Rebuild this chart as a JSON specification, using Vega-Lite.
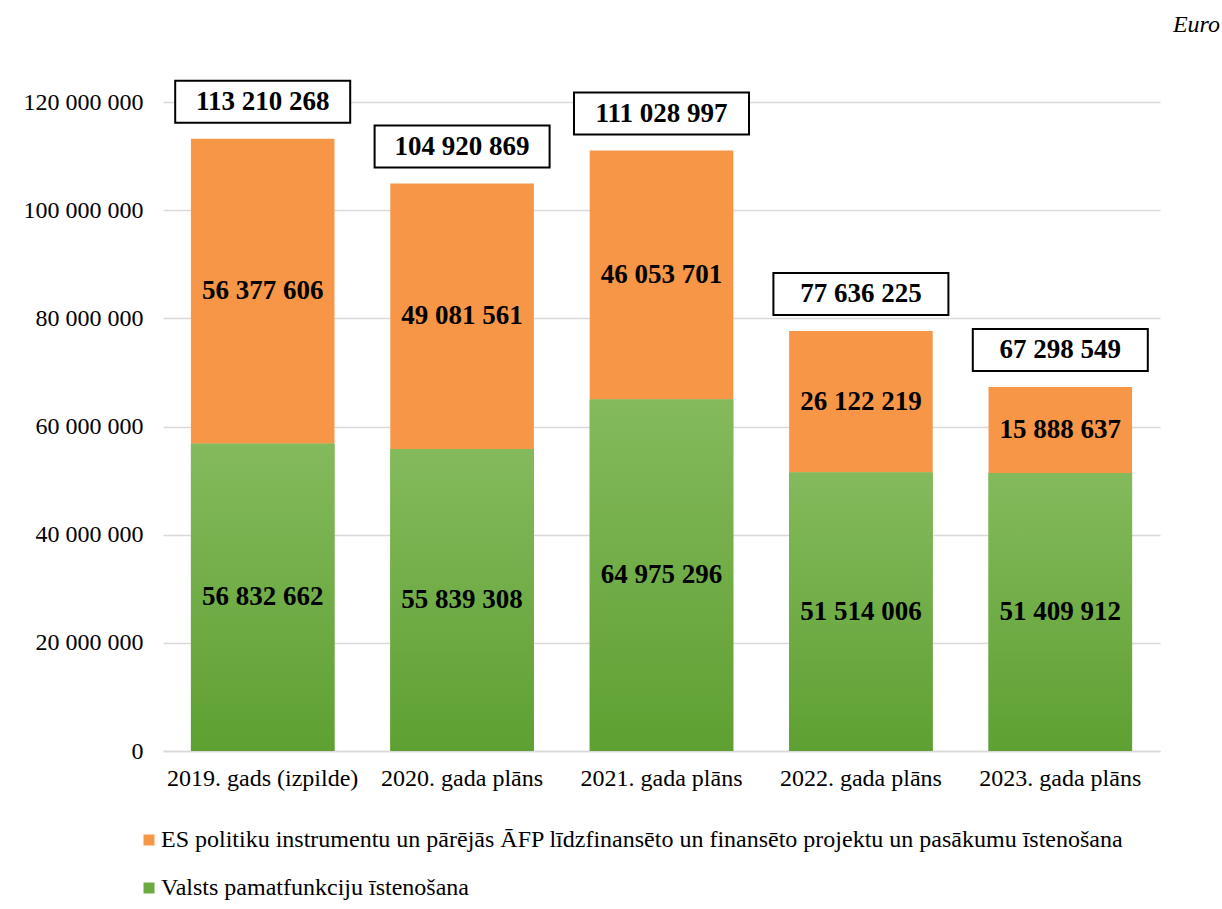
{
  "$schema": "https://vega.github.io/schema/vega-lite/v6.json",
  "width": 997,
  "height": 649,
  "autosize": {"type": "none"},
  "padding": {"left": 163, "top": 102, "right": 62, "bottom": 158},
  "background": "white",
  "config": {
    "locale": {"number": {"decimal": ",", "thousands": " ", "grouping": [3], "currency": ["", ""]}},
    "view": {"stroke": null},
    "font": "Liberation Serif"
  },
  "title": {
    "text": "Euro",
    "anchor": "end",
    "frame": "group",
    "fontStyle": "italic",
    "fontWeight": "normal",
    "fontSize": 24,
    "font": "Liberation Serif",
    "color": "black",
    "baseline": "alphabetic",
    "dx": 60,
    "offset": 21
  },
  "data": {
    "values": [
      {"year": "2019. gads (izpilde)", "series": "ES politiku instrumentu un pārējās ĀFP līdzfinansēto un finansēto projektu un pasākumu īstenošana", "value": 56377606},
      {"year": "2019. gads (izpilde)", "series": "Valsts pamatfunkciju īstenošana", "value": 56832662},
      {"year": "2020. gada plāns", "series": "ES politiku instrumentu un pārējās ĀFP līdzfinansēto un finansēto projektu un pasākumu īstenošana", "value": 49081561},
      {"year": "2020. gada plāns", "series": "Valsts pamatfunkciju īstenošana", "value": 55839308},
      {"year": "2021. gada plāns", "series": "ES politiku instrumentu un pārējās ĀFP līdzfinansēto un finansēto projektu un pasākumu īstenošana", "value": 46053701},
      {"year": "2021. gada plāns", "series": "Valsts pamatfunkciju īstenošana", "value": 64975296},
      {"year": "2022. gada plāns", "series": "ES politiku instrumentu un pārējās ĀFP līdzfinansēto un finansēto projektu un pasākumu īstenošana", "value": 26122219},
      {"year": "2022. gada plāns", "series": "Valsts pamatfunkciju īstenošana", "value": 51514006},
      {"year": "2023. gada plāns", "series": "ES politiku instrumentu un pārējās ĀFP līdzfinansēto un finansēto projektu un pasākumu īstenošana", "value": 15888637},
      {"year": "2023. gada plāns", "series": "Valsts pamatfunkciju īstenošana", "value": 51409912}
    ]
  },
  "encoding": {
    "x": {
      "field": "year",
      "type": "nominal",
      "sort": null,
      "title": null,
      "scale": {"paddingInner": 0.28, "paddingOuter": 0.14},
      "axis": {
        "labelAngle": 0,
        "labelFont": "Liberation Serif",
        "labelFontSize": 24,
        "labelColor": "black",
        "labelPadding": 15,
        "labelLimit": 400,
        "ticks": false,
        "domainColor": "#d9d9d9",
        "domainWidth": 1.5,
        "grid": false
      }
    }
  },
  "layer": [
    {
      "mark": {"type": "bar"},
      "encoding": {
        "y": {
          "field": "value",
          "type": "quantitative",
          "stack": "zero",
          "title": null,
          "scale": {"domain": [0, 120000000], "nice": false},
          "axis": {
            "values": [0, 20000000, 40000000, 60000000, 80000000, 100000000, 120000000],
            "format": ",d",
            "labelFont": "Liberation Serif",
            "labelFontSize": 24,
            "labelColor": "black",
            "labelPadding": 20,
            "ticks": false,
            "domain": false,
            "gridColor": "#d9d9d9",
            "gridWidth": 1.5
          }
        },
        "color": {
          "field": "series",
          "type": "nominal",
          "scale": {
            "domain": ["ES politiku instrumentu un pārējās ĀFP līdzfinansēto un finansēto projektu un pasākumu īstenošana", "Valsts pamatfunkciju īstenošana"],
            "range": ["#F79646", "#6CAA44"]
          },
          "legend": {
            "title": null,
            "orient": "none",
            "legendX": -26,
            "legendY": 726,
            "direction": "vertical",
            "symbolType": "square",
            "symbolSize": 121,
            "symbolStrokeWidth": 0,
            "labelFont": "Liberation Serif",
            "labelFontSize": 24,
            "labelColor": "black",
            "labelLimit": 2000,
            "labelOffset": 0,
            "rowPadding": 24,
            "padding": 0
          }
        },
        "order": {"field": "series", "sort": "descending"}
      }
    },
    {
      "transform": [{"filter": "datum.series === 'Valsts pamatfunkciju īstenošana'"}],
      "mark": {
        "type": "bar",
        "fill": {
          "gradient": "linear",
          "x1": 0, "y1": 0, "x2": 0, "y2": 1,
          "stops": [
            {"offset": 0, "color": "#84BA5C"},
            {"offset": 1, "color": "#5EA032"}
          ]
        }
      },
      "encoding": {
        "y": {"field": "value", "type": "quantitative", "title": null}
      }
    },
    {
      "transform": [
        {"stack": "value", "groupby": ["year"], "sort": [{"field": "series", "order": "descending"}], "as": ["v0", "v1"]},
        {"calculate": "(datum.v0 + datum.v1) / 2", "as": "mid"}
      ],
      "mark": {"type": "text", "font": "Liberation Serif", "fontWeight": "bold", "fontSize": 27, "color": "black", "baseline": "middle"},
      "encoding": {
        "y": {"field": "mid", "type": "quantitative", "title": null},
        "text": {"field": "value", "type": "quantitative", "format": ",d"}
      }
    },
    {
      "transform": [{"aggregate": [{"op": "sum", "field": "value", "as": "total"}], "groupby": ["year"]}],
      "mark": {
        "type": "point",
        "shape": "M-1,-0.24L1,-0.24L1,0.24L-1,0.24Z",
        "size": 30625,
        "filled": true,
        "fill": "white",
        "stroke": "black",
        "strokeWidth": 2,
        "opacity": 1,
        "yOffset": -37
      },
      "encoding": {
        "y": {"field": "total", "type": "quantitative", "title": null}
      }
    },
    {
      "transform": [{"aggregate": [{"op": "sum", "field": "value", "as": "total"}], "groupby": ["year"]}],
      "mark": {"type": "text", "font": "Liberation Serif", "fontWeight": "bold", "fontSize": 27, "color": "black", "baseline": "middle", "yOffset": -37},
      "encoding": {
        "y": {"field": "total", "type": "quantitative", "title": null},
        "text": {"field": "total", "type": "quantitative", "format": ",d"}
      }
    }
  ]
}
